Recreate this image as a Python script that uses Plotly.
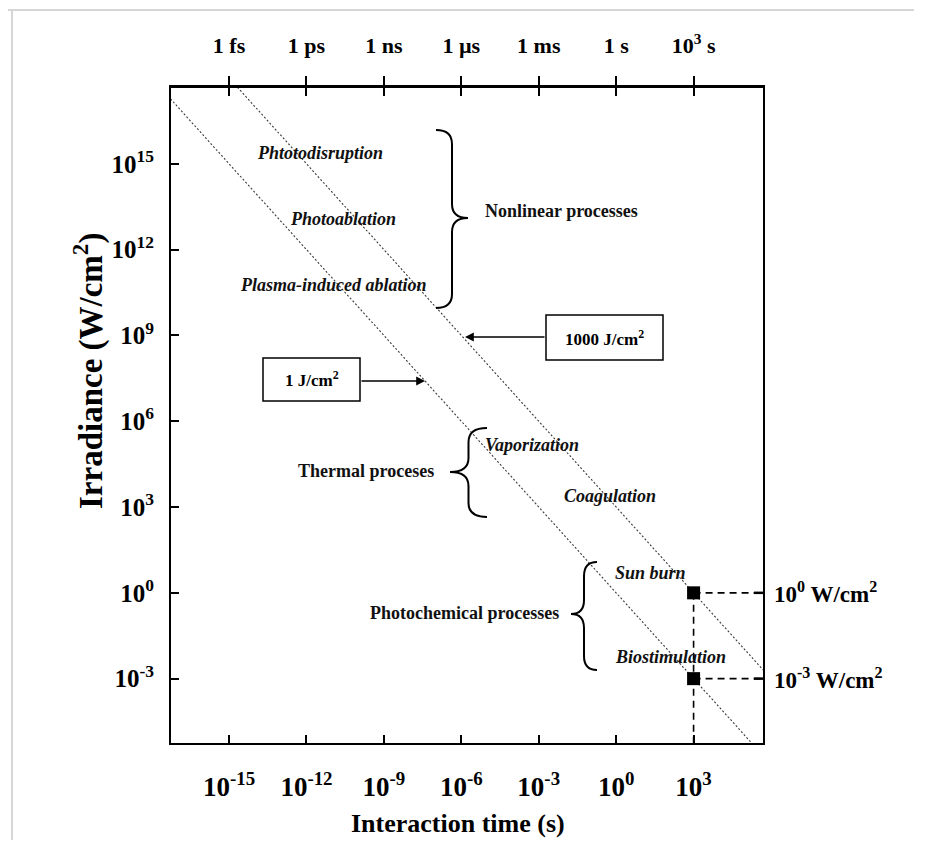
import numpy as np
import plotly.graph_objects as go

# ---------------- data ----------------
fluence = [1, 1000]                      # J/cm^2 iso-fluence lines
fluence_labels = ["1 J/cm<sup>2</sup>", "1000 J/cm<sup>2</sup>"]
t_span = [1e-18, 1e7]                    # s, lines are clipped to the axes
mark_t = [1e3, 1e3]                      # s
mark_I = [1e0, 1e-3]                     # W/cm^2
mark_labels = ["10<sup>0</sup> W/cm<sup>2</sup>", "10<sup>-3</sup> W/cm<sup>2</sup>"]
x_tickvals = [1e-15, 1e-12, 1e-9, 1e-6, 1e-3, 1e0, 1e3]
x_ticktext = ["10<sup>-15</sup>", "10<sup>-12</sup>", "10<sup>-9</sup>", "10<sup>-6</sup>",
              "10<sup>-3</sup>", "10<sup>0</sup>", "10<sup>3</sup>"]
top_ticktext = ["1 fs", "1 ps", "1 ns", "1 µs", "1 ms", "1 s", "10<sup>3</sup> s"]
y_tickvals = [1e15, 1e12, 1e9, 1e6, 1e3, 1e0, 1e-3]
y_ticktext = ["10<sup>15</sup>", "10<sup>12</sup>", "10<sup>9</sup>", "10<sup>6</sup>",
              "10<sup>3</sup>", "10<sup>0</sup>", "10<sup>-3</sup>"]
x_range_log = [-17.25, 5.69]
y_range_log = [-5.25, 17.65]

# ---------------- layout geometry (reference pixel frame) ----------------
W, H = 926, 852
OFF = 8                       # page body margin
FW, FH = W - 2 * OFF - 4, H - 2 * OFF - 4
L, R, T, B = 171, 763, 88, 743
FONT = "Liberation Serif"

def px(X):
    return (X - L) / (R - L)

def py(Y):
    return (B - Y) / (B - T)

fig = go.Figure()

# iso-fluence dotted lines
for F in fluence:
    fig.add_trace(go.Scatter(
        x=t_span, y=[F / t for t in t_span], mode="lines",
        line=dict(color="#3a3a3a", width=1.1, dash="2px,2px"),
        hoverinfo="skip", showlegend=False))

# dashed guide lines
for t, I in zip(mark_t, mark_I):
    fig.add_trace(go.Scatter(
        x=[t, 10 ** (x_range_log[1] + 1)], y=[I, I], mode="lines",
        line=dict(color="black", width=1.6, dash="7px,5px"),
        hoverinfo="skip", showlegend=False))
fig.add_trace(go.Scatter(
    x=[mark_t[0], mark_t[0]], y=[mark_I[0], 10 ** (y_range_log[0] - 1)], mode="lines",
    line=dict(color="black", width=1.6, dash="7px,5px"),
    hoverinfo="skip", showlegend=False))

# square markers
fig.add_trace(go.Scatter(
    x=mark_t, y=mark_I, mode="markers",
    marker=dict(symbol="square", size=13, color="black"),
    hoverinfo="skip", showlegend=False))

# invisible trace for the top axis
fig.add_trace(go.Scatter(x=[1e-15], y=[1], xaxis="x2", mode="markers",
                         marker=dict(opacity=0), hoverinfo="skip", showlegend=False))

shapes = []
annotations = []

# page border (light grey)
shapes.append(dict(type="line", xref="paper", yref="paper",
                   x0=px(8), x1=px(W + 5), y0=py(10), y1=py(10),
                   line=dict(color="#d6d6d6", width=2)))
shapes.append(dict(type="line", xref="paper", yref="paper",
                   x0=px(12), x1=px(12), y0=py(10), y1=py(H + 5),
                   line=dict(color="#d6d6d6", width=2)))

# right-axis ticks at marker levels
for I in mark_I:
    shapes.append(dict(type="line", xref="paper", yref="y",
                       x0=1 - 9 / (R - L), x1=1, y0=I, y1=I,
                       line=dict(color="black", width=2.5)))


def brace(x_tip, x_back, ytop, ybot, ytip, r=14):
    xm = (x_tip + x_back) / 2.0
    pts = [
        ("M", [(x_back, ytop)]),
        ("Q", [(xm, ytop), (xm, ytop + r)]),
        ("L", [(xm, ytip - r)]),
        ("Q", [(xm, ytip), (x_tip, ytip)]),
        ("Q", [(xm, ytip), (xm, ytip + r)]),
        ("L", [(xm, ybot - r)]),
        ("Q", [(xm, ybot), (x_back, ybot)]),
    ]
    s = ""
    for cmd, ps in pts:
        s += cmd + " " + " ".join(f"{px(a):.5f},{py(b):.5f}" for a, b in ps) + " "
    return dict(type="path", xref="paper", yref="paper", path=s.strip(),
                line=dict(color="black", width=2))

shapes.append(brace(468, 436, 130, 308, 218))   # }  nonlinear
shapes.append(brace(450, 487, 428, 517, 472))   # {  thermal
shapes.append(brace(571, 597, 562, 670, 614))   # {  photochemical

# fluence boxes
boxes = [(263, 360, 358, 401), (546, 663, 315, 360)]
for (x0, x1, y0, y1), lab in zip(boxes, fluence_labels):
    shapes.append(dict(type="rect", xref="paper", yref="paper",
                       x0=px(x0), x1=px(x1), y0=py(y0), y1=py(y1),
                       line=dict(color="black", width=1.5)))
    annotations.append(dict(xref="paper", yref="paper", x=px((x0 + x1) / 2),
                            y=py((y0 + y1) / 2), xanchor="center", yanchor="middle",
                            text="<b>" + lab + "</b>",
                            showarrow=False, font=dict(family=FONT, size=17, color="black")))

# arrows
annotations.append(dict(xref="paper", yref="paper", x=px(425), y=py(381), text="",
                        showarrow=True, ax=-65, ay=0, arrowhead=2, arrowsize=1.1,
                        arrowwidth=1.6, arrowcolor="black"))
annotations.append(dict(xref="paper", yref="paper", x=px(465), y=py(337), text="",
                        showarrow=True, ax=81, ay=0, arrowhead=2, arrowsize=1.1,
                        arrowwidth=1.6, arrowcolor="black"))

# text labels
def txt(x, y, s, italic=False, size=18, anchor="center"):
    inner = f"<i>{s}</i>" if italic else s
    annotations.append(dict(xref="paper", yref="paper", x=px(x), y=py(y),
                            xanchor=anchor, yanchor="middle", text=f"<b>{inner}</b>",
                            showarrow=False, font=dict(family=FONT, size=size, color="#111111")))

txt(320, 153, "Phtotodisruption", italic=True, size=18)
txt(343, 219, "Photoablation", italic=True, size=18)
txt(333, 285, "Plasma-induced ablation", italic=True, size=18)
txt(483, 211, "Nonlinear processes", size=18, anchor="left")
txt(436, 471, "Thermal proceses", size=18, anchor="right")
txt(483, 445, "Vaporization", italic=True, size=18, anchor="left")
txt(562, 496, "Coagulation", italic=True, size=18, anchor="left")
txt(561, 613, "Photochemical processes", size=18, anchor="right")
txt(613, 573, "Sun burn", italic=True, size=18, anchor="left")
txt(613, 657, "Biostimulation", italic=True, size=18, anchor="left")

for I, lab in zip(mark_I, mark_labels):
    annotations.append(dict(xref="paper", yref="y", x=px(772), y=np.log10(I),
                            xanchor="left", yanchor="middle", text=f"<b>{lab}</b>",
                            showarrow=False, font=dict(family=FONT, size=23, color="black")))

# axis titles
annotations.append(dict(xref="paper", yref="paper", x=px(458), y=py(823),
                        xanchor="center", yanchor="middle",
                        text="<b>Interaction time (s)</b>", showarrow=False,
                        font=dict(family=FONT, size=26, color="black")))
annotations.append(dict(xref="paper", yref="paper", x=px(88), y=py(371),
                        xanchor="center", yanchor="middle", textangle=-90,
                        text="<b>Irradiance (W/cm<sup>2</sup>)</b>", showarrow=False,
                        font=dict(family=FONT, size=33, color="black")))

fig.update_layout(
    width=FW, height=FH,
    margin=dict(l=L - OFF, r=(OFF + FW) - R, t=T - OFF, b=(OFF + FH) - B),
    paper_bgcolor="white", plot_bgcolor="white",
    shapes=shapes, annotations=annotations,
    font=dict(family=FONT, color="black"),
    xaxis=dict(type="log", range=x_range_log, tickvals=x_tickvals,
               ticktext=[f"<b>{t}</b>" for t in x_ticktext],
               ticks="inside", ticklen=8, tickwidth=2, tickcolor="black",
               showline=True, linewidth=2, linecolor="black", mirror="ticks",
               showgrid=False, zeroline=False,
               tickfont=dict(family=FONT, size=27, color="black"),
               ticklabelstandoff=19),
    xaxis2=dict(type="log", range=x_range_log, overlaying="x", side="top",
                tickvals=x_tickvals, ticktext=[f"<b>{t}</b>" for t in top_ticktext],
                ticks="outside", ticklen=9, tickwidth=2, tickcolor="black",
                showline=True, linewidth=3, linecolor="black",
                showgrid=False, zeroline=False,
                tickfont=dict(family=FONT, size=22, color="black"),
                ticklabelstandoff=14),
    yaxis=dict(type="log", range=y_range_log, tickvals=y_tickvals,
               ticktext=[f"<b>{t}</b>" for t in y_ticktext],
               ticks="inside", ticklen=8, tickwidth=2, tickcolor="black",
               showline=True, linewidth=2, linecolor="black", mirror=True,
               showgrid=False, zeroline=False,
               tickfont=dict(family=FONT, size=25, color="black"),
               ticklabelstandoff=10),
)

fig.write_html("out.html")
